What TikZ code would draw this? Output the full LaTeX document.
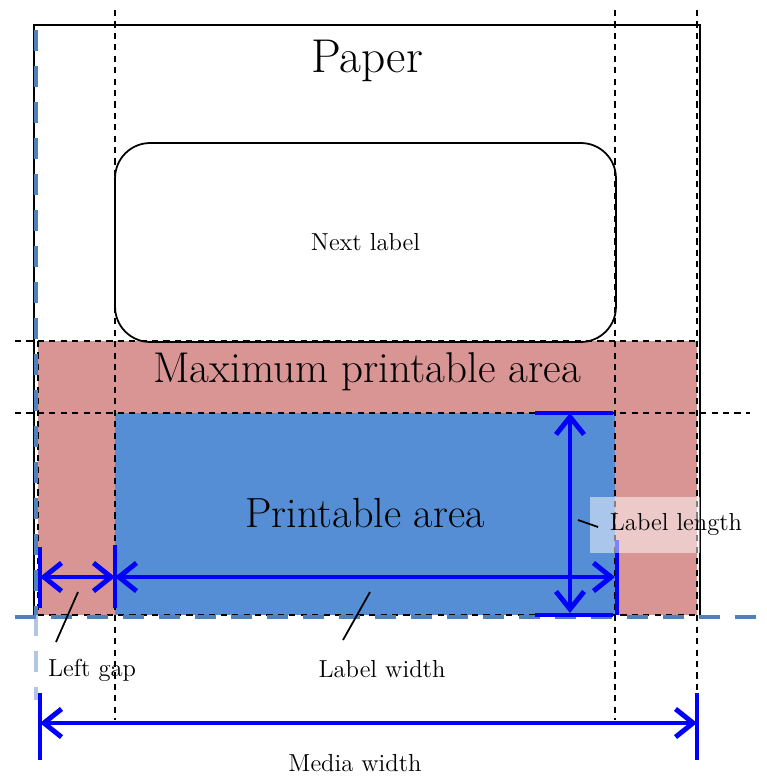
\documentclass[tikz,border=0pt]{standalone}
\usepackage{tikz}
\usetikzlibrary{arrows.meta}
\definecolor{maxred}{HTML}{D99594}
\definecolor{printblue}{HTML}{558ED5}
\definecolor{mediablue}{HTML}{4F81BD}
\tikzset{guide/.style={draw=black,line width=0.9pt,dash pattern=on 3.5pt off 3pt}}
\tikzset{tick/.style={draw=blue,line width=2.8pt}}
\tikzset{dim/.style={tick,{Straight Barb[length=10pt,width=16pt]}-{Straight Barb[length=10pt,width=16pt]}}}
\tikzset{medialine/.style={draw=mediablue,line width=2.8pt,dash pattern=on 12pt off 8.5pt}}
\def\smallsize{\fontsize{14}{16}\selectfont}

\begin{document}
\begin{tikzpicture}[x=0.02cm,y=-0.02cm]
    \tikzstyle{leader}=[draw=black,line width=1pt]
    \tikzstyle{annot}=[inner sep=0pt,font=\smallsize]
    \useasboundingbox (0,0) rectangle (766,776);

    % Fill the printable areas
    \fill[maxred] (38,341) rectangle (697,615);
    \fill[printblue] (115,413) rectangle (615,615);

    % Draw the paper and the next label
    \draw[line width=1pt] (34,615) -- (34,25) -- (700,25) -- (700,615);
    \node[draw,line width=1pt,rounded corners=20pt,minimum width=10.02cm,
          minimum height=3.98cm,annot] (next) at (365.5,242.5) {Next label};

    % Guides
    \foreach \x in {115,615,697}
        \draw[guide] (\x,10) -- (\x,720);
    \draw[guide] (15,341) -- (700,341);
    \draw[guide] (15,413) -- (750,413);
    \draw[guide] (38,341) -- (38,615);
    \draw[guide] (38,615) -- (700,615);

    % Media edges
    \draw[medialine] (36,30) -- (36,615);
    \draw[medialine,opacity=0.45] (36,615) -- (36,700);
    \draw[medialine] (15,617) -- (766,617);

    % Area titles
    \node[inner sep=0pt] (paper) at (367,61) {\fontsize{27}{30}\selectfont Paper};
    \node[inner sep=0pt] (maxarea) at (367,372) {\fontsize{24.5}{28}\selectfont Maximum printable area};
    \node[inner sep=0pt] (printarea) at (365,513) {\fontsize{24}{28}\selectfont Printable area};

    % Dimension ends
    \coordinate (lg-l) at (40,577);
    \coordinate (lg-r) at (115,577);
    \coordinate (lw-r) at (615,577);
    \coordinate (ll-t) at (570,413);
    \coordinate (ll-b) at (570,613);
    \coordinate (mw-l) at (40,723);
    \coordinate (mw-r) at (697,723);

    % Ticks
    \draw[tick] (40,547) -- (40,608);
    \draw[tick] (115,545) -- (115,608);
    \draw[tick] (617,540) -- (617,615);
    \draw[tick] (535,413) -- (613,413);
    \draw[tick] (535,615) -- (613,615);
    \draw[tick] (40,693) -- (40,760);
    \draw[tick] (697,693) -- (697,760);

    % Dimension arrows
    \draw[dim] (lg-l) -- (lg-r);
    \draw[dim] (lg-r) -- (lw-r);
    \draw[dim] (ll-t) -- (ll-b);
    \draw[dim] (mw-l) -- (mw-r);

    % Annotate the dimensions
    \fill[white,opacity=0.5] (590,497) rectangle (700,553);
    \node[annot] (lablen) at (676,524) {Label length};
    \node[annot] (leftgap) at (92,670) {Left gap};
    \node[annot] (labwidth) at (382,669) {Label width};
    \node[annot] (mediawidth) at (355,763) {Media width};

    \coordinate (ll-a) at (578,520);
    \coordinate (ll-z) at (598,527);
    \coordinate (lg-a) at (78,592);
    \coordinate (lg-z) at (56,642);
    \coordinate (lw-a) at (370,592);
    \coordinate (lw-z) at (343,640);
    \draw[leader] (ll-a) -- (ll-z);
    \draw[leader] (lg-a) -- (lg-z);
    \draw[leader] (lw-a) -- (lw-z);
\end{tikzpicture}
\end{document}
